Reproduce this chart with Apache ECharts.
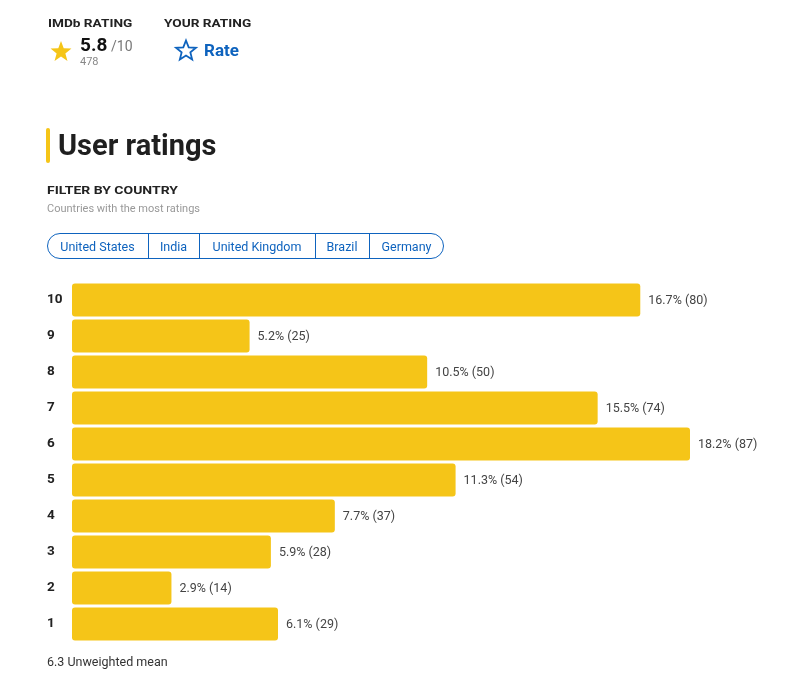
<!DOCTYPE html>
<html><head><meta charset="utf-8">
<script src="https://cdn.jsdelivr.net/npm/echarts@6/dist/echarts.min.js"></script>
<style>html,body{margin:0;padding:0;background:#fff;}#c{width:796px;height:682px;}</style>
</head><body><div id="c"></div>
<script>
const ratings = ['10','9','8','7','6','5','4','3','2','1'];
const votes = [80,25,50,74,87,54,37,28,14,29];
const percents = [16.7,5.2,10.5,15.5,18.2,11.3,7.7,5.9,2.9,6.1];
const countries = ['United States','India','United Kingdom','Brazil','Germany'];
const imdbScore = '5.8';
const totalVotes = '478';
const unweightedMean = '6.3';

const F = 'Roboto, "Noto Sans", sans-serif';
const BLUE = '#0e63be';
const YEL = '#f5c518';
function starPts(cx, cy, R, r){
  const p=[];
  for(let i=0;i<10;i++){
    const a=-Math.PI/2+i*Math.PI/5; const rr=i%2===0?R:r;
    p.push([cx+rr*Math.cos(a), cy+rr*Math.sin(a)]);
  }
  return p;
}
const btnX=[47,148,199,315,369,444];
const graphics=[
  {type:'text',x:48,y:19,scaleX:1.24,style:{text:'IMDb RATING',font:'bold 11px '+F,fill:'#222'}},
  {type:'text',x:164,y:19,scaleX:1.24,style:{text:'YOUR RATING',font:'bold 11px '+F,fill:'#222'}},
  {type:'polygon',shape:{points:starPts(61,52,11,4.6)},style:{fill:YEL}},
  {type:'text',left:80,top:37,style:{text:imdbScore,font:'bold 19px '+F,fill:'#111'}},
  {type:'text',left:111,top:40,style:{text:'/10',font:'14px '+F,fill:'#777'}},
  {type:'text',left:80,top:57,style:{text:totalVotes,font:'11px '+F,fill:'#888'}},
  {type:'polygon',shape:{points:starPts(186,51,10.5,4.6)},style:{fill:'none',stroke:BLUE,lineWidth:1.8}},
  {type:'text',left:204,top:43,style:{text:'Rate',font:'bold 17px '+F,fill:BLUE}},
  {type:'rect',shape:{x:46,y:128,width:4,height:35,r:2},style:{fill:YEL}},
  {type:'text',left:58,top:133,style:{text:'User ratings',font:'bold 29px '+F,fill:'#1f1f1f'}},
  {type:'text',x:47,y:186,scaleX:1.27,style:{text:'FILTER BY COUNTRY',font:'bold 11px '+F,fill:'#222'}},
  {type:'text',left:47,top:204,style:{text:'Countries with the most ratings',font:'11px '+F,fill:'#999'}},
  {type:'rect',shape:{x:47.5,y:233.5,width:396,height:25,r:12.5},style:{fill:'none',stroke:BLUE,lineWidth:1}}
];
for(let i=1;i<btnX.length-1;i++){
  graphics.push({type:'line',shape:{x1:btnX[i]+0.5,y1:234,x2:btnX[i]+0.5,y2:258},style:{stroke:BLUE,lineWidth:1}});
}
countries.forEach((c,i)=>{
  graphics.push({type:'text',x:(btnX[i]+btnX[i+1])/2,y:248,style:{text:c,font:'12.5px '+F,fill:BLUE,align:'center',verticalAlign:'middle'}});
});
graphics.push({type:'text',left:47,top:656,style:{text:unweightedMean+' Unweighted mean',font:'12.5px '+F,fill:'#333'}});

const chart = echarts.init(document.getElementById('c'));
chart.setOption({
  animation:false,
  textStyle:{fontFamily:F},
  grid:{left:72,right:106,top:282,height:360,containLabel:false},
  xAxis:{type:'value',min:0,max:87,show:false},
  yAxis:{type:'category',data:ratings,inverse:true,
    axisLine:{show:false},axisTick:{show:false},
    axisLabel:{align:'left',margin:25,fontSize:13.5,fontWeight:'bold',color:'#222',fontFamily:F}},
  series:[{type:'bar',data:votes,barWidth:33,
    itemStyle:{color:YEL,borderRadius:3},
    label:{show:true,position:'right',distance:8,fontSize:12.5,color:'#444',fontFamily:F,offset:[0,1],
      formatter:p=>percents[p.dataIndex].toFixed(1)+'% ('+p.value+')'}}],
  graphic:graphics
});
</script></body></html>
